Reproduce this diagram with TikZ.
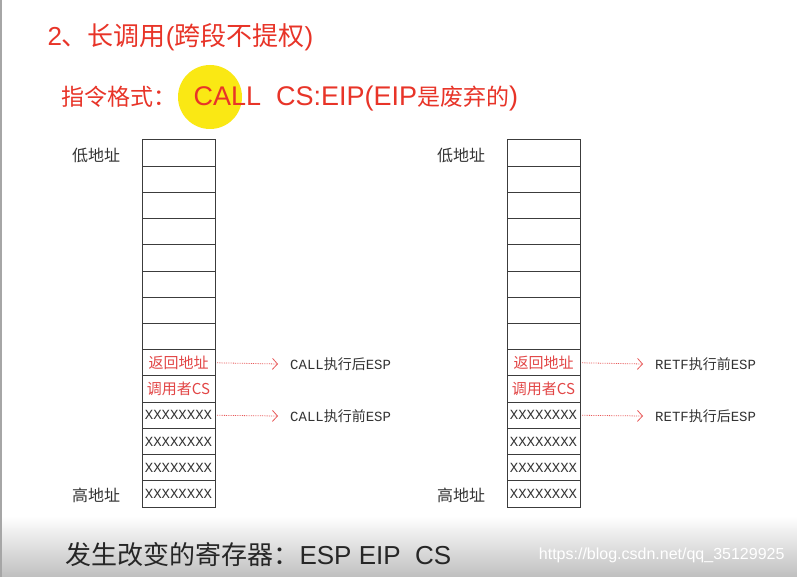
\documentclass[tikz,border=0pt]{standalone}
\usepackage{fontspec}
\usepackage{tikz}
\usetikzlibrary{arrows.meta}
\newfontfamily\cjk{Noto Sans CJK SC}
\newfontfamily\mono{Liberation Mono}
\newfontfamily\arial{Liberation Sans}
\definecolor{titlered}{RGB}{232,52,40}
\definecolor{cellred}{RGB}{226,70,70}
\definecolor{arrowred}{RGB}{232,90,90}
\definecolor{frame}{RGB}{60,60,60}
\definecolor{marker}{RGB}{250,232,20}
\tikzstyle{cell}=[draw=frame, line width=1pt, minimum width=73pt, minimum height=26.2pt, inner sep=0pt, outer sep=0pt]
\tikzstyle{filled}=[cell, font=\mono\fontsize{14}{14}\selectfont, text=black!80]
\tikzstyle{saved}=[cell, font=\cjk\fontsize{15}{15}\selectfont, text=cellred]
\tikzstyle{addr}=[font=\cjk\fontsize{16}{16}\selectfont, text=black!80]
\tikzstyle{esp}=[font=\fontsize{14}{14}\selectfont, anchor=west, inner sep=0pt, text=black!80]
\tikzstyle{pointer}=[arrowred, densely dotted, line width=0.8pt, -{Straight Barb[length=5pt,width=11pt]}]
\begin{document}
\begin{tikzpicture}[x=1pt,y=-1pt]
				\useasboundingbox (0,0) rectangle (797,577);
				\fill[white] (0,0) rectangle (797,577);
				\shade[top color=white, bottom color=black!25] (0,516) rectangle (797,577);
				\draw[black!35, line width=2pt] (1,0) -- (1,577);

				\fill[marker] (210,97) circle [radius=32];
				\node[anchor=west, text=titlered, font=\cjk\fontsize{26}{26}\selectfont] (title) at (44,37) {{\arial 2}、长调用{\arial (}跨段不提权{\arial )}};
				\node[anchor=west, text=titlered, font=\cjk\fontsize{23}{23}\selectfont] (format) at (58,99) {指令格式：\hspace{17pt}{\arial\fontsize{27}{27}\selectfont CALL\ \ CS:EIP(EIP}是废弃的{\arial\fontsize{27}{27}\selectfont )}};

				\node[cell] (a1) at (178.5,153.1) {};
				\node[cell] (a2) at (178.5,179.3) {};
				\node[cell] (a3) at (178.5,205.5) {};
				\node[cell] (a4) at (178.5,231.8) {};
				\node[cell] (a5) at (178.5,258.0) {};
				\node[cell] (a6) at (178.5,284.2) {};
				\node[cell] (a7) at (178.5,310.4) {};
				\node[cell] (a8) at (178.5,336.6) {};
				\node[saved] (a9) at (178.5,362.8) {返回地址};
				\node[saved] (a10) at (178.5,389.0) {调用者CS};
				\node[filled] (a11) at (178.5,415.3) {XXXXXXXX};
				\node[filled] (a12) at (178.5,441.5) {XXXXXXXX};
				\node[filled] (a13) at (178.5,467.7) {XXXXXXXX};
				\node[filled] (a14) at (178.5,493.9) {XXXXXXXX};

				\node[cell] (b1) at (543.5,153.1) {};
				\node[cell] (b2) at (543.5,179.3) {};
				\node[cell] (b3) at (543.5,205.5) {};
				\node[cell] (b4) at (543.5,231.8) {};
				\node[cell] (b5) at (543.5,258.0) {};
				\node[cell] (b6) at (543.5,284.2) {};
				\node[cell] (b7) at (543.5,310.4) {};
				\node[cell] (b8) at (543.5,336.6) {};
				\node[saved] (b9) at (543.5,362.8) {返回地址};
				\node[saved] (b10) at (543.5,389.0) {调用者CS};
				\node[filled] (b11) at (543.5,415.3) {XXXXXXXX};
				\node[filled] (b12) at (543.5,441.5) {XXXXXXXX};
				\node[filled] (b13) at (543.5,467.7) {XXXXXXXX};
				\node[filled] (b14) at (543.5,493.9) {XXXXXXXX};

				\node[addr] (alow) at (96,155) {低地址};
				\node[addr] (ahigh) at (96,495) {高地址};
				\node[addr] (blow) at (461,155) {低地址};
				\node[addr] (bhigh) at (461,495) {高地址};

				\node[esp] (aafter) at (290,364) {{\mono CALL}{\cjk 执行后}{\mono ESP}};
				\node[esp] (abefore) at (290,416) {{\mono CALL}{\cjk 执行前}{\mono ESP}};
				\node[esp] (bbefore) at (655,364) {{\mono RETF}{\cjk 执行前}{\mono ESP}};
				\node[esp] (bafter) at (655,416) {{\mono RETF}{\cjk 执行后}{\mono ESP}};

				\draw[pointer] ([xshift=2pt]a9.east) -- ([xshift=-12pt]aafter.west);
				\draw[pointer] ([xshift=2pt]a11.east) -- ([xshift=-12pt]abefore.west);
				\draw[pointer] ([xshift=2pt]b9.east) -- ([xshift=-12pt]bbefore.west);
				\draw[pointer] ([xshift=2pt]b11.east) -- ([xshift=-12pt]bafter.west);

				\node[anchor=west, text=black!85, font=\cjk\fontsize{26}{26}\selectfont] (regs) at (62,555) {发生改变的寄存器：{\arial ESP EIP\ \ CS}};
				\node[anchor=east, text=white, font=\arial\fontsize{16}{16}\selectfont] (mark) at (788,555) {https://blog.csdn.net/qq\_35129925};
			\end{tikzpicture}
\end{document}
